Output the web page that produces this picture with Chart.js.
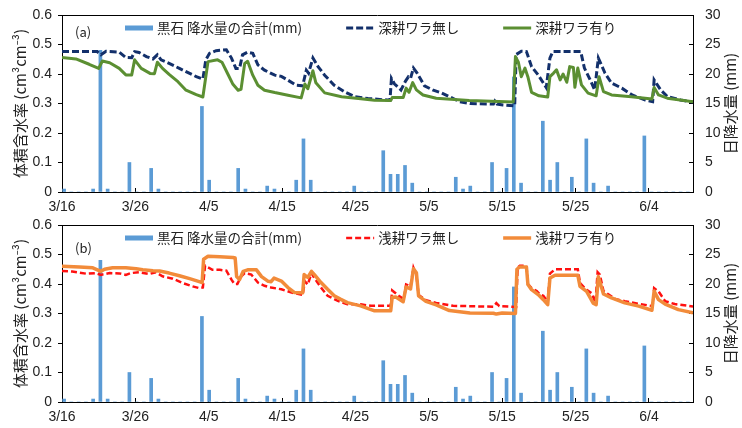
<!DOCTYPE html>
<html lang="ja">
<head>
<meta charset="utf-8">
<title>体積含水率と日降水量</title>
<script src="https://cdn.jsdelivr.net/npm/chart.js@4.4.1/dist/chart.umd.min.js"></script>
<style>
  html, body { margin: 0; padding: 0; background: #fff; }
  .panel { width: 742px; height: 214px; }
  canvas { display: block; }
</style>
</head>
<body>
<div class="panel"><canvas id="chartA" width="742" height="214"></canvas></div>
<div class="panel"><canvas id="chartB" width="742" height="214"></canvas></div>
<script>
// x-axis ticks: days since 3/16 and their labels
const tickDays = [0, 10, 20, 30, 40, 50, 60, 70, 80];
const tickLabels = ['3/16', '3/26', '4/5', '4/15', '4/25', '5/5', '5/15', '5/25', '6/4'];

// Daily precipitation at Kuroishi (mm), one value per day from 3/16 to 6/10
const rainfall = [
  0.5, 0, 0, 0, 0.5, 24, 0.5, 0, 0, 5,
  0, 0, 4, 0.5, 0, 0, 0, 0, 0, 14.5,
  2, 0, 0, 0, 4, 0.5, 0, 0, 1, 0.5,
  0, 0, 2, 9, 2, 0, 0, 0, 0, 0,
  1, 0, 0, 0, 7, 3, 3, 4.5, 1.5, 0,
  0, 0, 0, 0, 2.5, 0.5, 1, 0, 0, 5,
  0, 4, 19.5, 1.5, 0, 0, 12, 2, 5, 0,
  2.5, 0, 9, 1.5, 0, 1, 0, 0, 0, 0,
  9.5, 0, 0, 0, 0, 0, 0
];

// Volumetric water content (cm3/cm3): [days since 3/16, value]
const deepNoStraw = [
  [0,0.476],[2,0.476],[4.8,0.476],[5.3,0.465],[6.0,0.477],[7.8,0.474],[8.7,0.456],[9.5,0.455],[9.9,0.476],[10.5,0.473],
  [11.5,0.459],[12.4,0.451],[13.0,0.465],[13.5,0.448],[14.6,0.436],[16.0,0.419],[17.4,0.402],[18.3,0.391],[19.2,0.383],[19.6,0.448],
  [20.1,0.47],[21.0,0.479],[22.4,0.482],[23.1,0.454],[23.7,0.419],[24.2,0.419],[24.6,0.465],[25.3,0.474],[26.0,0.47],[26.7,0.431],
  [27.6,0.413],[29.0,0.396],[29.9,0.392],[30.8,0.379],[31.9,0.362],[32.8,0.36],[33.3,0.413],[33.6,0.403],[34.2,0.454],[34.9,0.425],
  [35.8,0.396],[37.1,0.362],[38.5,0.34],[39.9,0.323],[41.7,0.317],[44.7,0.311],[44.9,0.385],[45.3,0.367],[46.2,0.346],[46.8,0.375],
  [47.2,0.39],[47.5,0.385],[47.9,0.42],[48.4,0.403],[49.4,0.36],[50.6,0.345],[51.7,0.336],[52.8,0.323],[54.2,0.306],[55.6,0.3],
  [58.8,0.298],[59.0,0.308],[59.3,0.298],[60.1,0.295],[61.7,0.292],[61.9,0.466],[62.6,0.477],[63.3,0.476],[64.0,0.425],[64.9,0.397],
  [66.0,0.354],[66.5,0.454],[66.9,0.476],[70.7,0.476],[71.2,0.42],[72.1,0.374],[72.6,0.346],[73.1,0.454],[74.0,0.403],[74.9,0.369],
  [76.3,0.352],[77.7,0.329],[79.5,0.312],[80.5,0.306],[80.7,0.38],[81.6,0.346],[82.5,0.324],[84.3,0.312],[86,0.305]
];
const deepStraw = [
  [0,0.456],[1.9,0.451],[3.7,0.433],[5.0,0.419],[5.5,0.444],[6.5,0.438],[7.8,0.419],[8.7,0.397],[9.5,0.397],[9.9,0.448],
  [10.8,0.419],[12.0,0.402],[12.6,0.401],[13.0,0.44],[13.7,0.419],[14.6,0.399],[15.8,0.374],[16.9,0.345],[18.3,0.33],[19.2,0.322],
  [19.5,0.374],[19.9,0.442],[21.2,0.448],[21.8,0.44],[22.6,0.40],[23.3,0.365],[24.0,0.345],[24.4,0.348],[24.9,0.436],[25.3,0.443],
  [26.0,0.396],[26.7,0.362],[27.6,0.345],[29.0,0.337],[30.8,0.328],[32.6,0.319],[33.1,0.366],[33.5,0.35],[34.2,0.411],[34.6,0.37],
  [35.8,0.336],[38.1,0.323],[40.4,0.317],[42.6,0.311],[44.8,0.31],[45.0,0.32],[46.5,0.32],[46.9,0.352],[47.3,0.338],[47.8,0.371],
  [48.3,0.346],[49.2,0.329],[51.0,0.318],[55.5,0.31],[61.5,0.305],[61.8,0.459],[62.2,0.44],[62.6,0.391],[63.1,0.42],[63.5,0.39],
  [64.0,0.338],[65.0,0.326],[66.2,0.322],[66.5,0.391],[67.0,0.403],[67.4,0.414],[67.9,0.38],[68.3,0.40],[68.8,0.372],[69.2,0.425],
  [69.7,0.422],[69.9,0.355],[70.3,0.42],[70.8,0.363],[71.7,0.335],[72.8,0.326],[73.2,0.391],[73.8,0.34],[74.9,0.329],[77.6,0.323],
  [80.4,0.315],[80.7,0.354],[81.3,0.329],[82.5,0.318],[86,0.306]
];
const shallowNoStraw = [
  [0,0.444],[1.4,0.442],[3.3,0.435],[4.6,0.437],[5.3,0.431],[6.5,0.437],[7.8,0.436],[8.7,0.431],[9.4,0.437],[10.5,0.44],
  [11.9,0.434],[12.8,0.44],[13.7,0.426],[15.1,0.418],[16.5,0.403],[17.8,0.392],[18.7,0.386],[19.2,0.388],[19.5,0.462],[20.5,0.448],
  [21.5,0.448],[22.4,0.445],[23.1,0.415],[23.5,0.40],[23.9,0.40],[24.4,0.425],[24.9,0.437],[25.8,0.432],[26.7,0.405],[27.6,0.394],
  [28.5,0.388],[29.9,0.382],[31.3,0.371],[32.8,0.363],[33.1,0.409],[33.5,0.398],[34.0,0.437],[34.4,0.42],[35.3,0.388],[36.2,0.36],
  [37.6,0.343],[38.9,0.331],[40.7,0.331],[42.1,0.326],[44.8,0.326],[45.0,0.378],[45.3,0.372],[46.0,0.358],[46.6,0.348],[46.9,0.398],
  [47.5,0.392],[47.9,0.455],[48.3,0.43],[48.6,0.363],[49.6,0.345],[51.0,0.336],[53.3,0.326],[58.8,0.323],[59.2,0.335],[59.6,0.325],
  [61.9,0.322],[62.1,0.455],[62.4,0.462],[63.3,0.462],[63.5,0.40],[64.0,0.386],[64.7,0.376],[65.1,0.366],[65.6,0.36],[66.2,0.34],
  [66.5,0.435],[67.2,0.45],[70.3,0.45],[70.6,0.403],[71.5,0.38],[72.2,0.369],[72.7,0.336],[73.0,0.44],[73.3,0.432],[73.8,0.376],
  [74.4,0.366],[75.4,0.349],[76.7,0.342],[78.6,0.333],[80.5,0.325],[80.7,0.386],[81.3,0.375],[82.2,0.342],[83.5,0.332],[86,0.324]
];
const shallowStraw = [
  [0,0.46],[2.4,0.458],[4.2,0.455],[5.3,0.443],[5.8,0.45],[6.9,0.455],[8.7,0.455],[10.1,0.452],[11.0,0.448],[12.4,0.445],
  [13.3,0.444],[14.6,0.437],[16.0,0.428],[17.4,0.418],[18.7,0.408],[19.1,0.405],[19.3,0.484],[19.9,0.494],[21.5,0.492],[23.3,0.49],
  [23.6,0.488],[23.8,0.425],[24.2,0.415],[24.7,0.443],[25.3,0.448],[26.5,0.448],[27.2,0.425],[28.1,0.409],[28.5,0.408],[28.9,0.42],
  [29.9,0.41],[30.8,0.388],[31.7,0.371],[32.8,0.37],[33.0,0.432],[33.5,0.422],[34.0,0.443],[34.4,0.432],[35.3,0.405],[36.2,0.382],
  [37.1,0.36],[38.0,0.348],[38.9,0.337],[40.7,0.326],[42.6,0.309],[44.8,0.309],[45.0,0.355],[45.5,0.356],[46.5,0.34],[46.9,0.39],
  [47.5,0.383],[47.9,0.452],[48.3,0.438],[48.6,0.36],[49.6,0.341],[51.0,0.329],[52.8,0.31],[55.6,0.302],[58.8,0.301],[59.2,0.298],
  [60.0,0.302],[61.8,0.30],[62.0,0.45],[62.4,0.458],[63.3,0.458],[63.5,0.398],[64.0,0.381],[64.9,0.364],[65.6,0.347],[66.2,0.33],
  [66.5,0.42],[67.2,0.43],[70.3,0.43],[70.6,0.392],[71.5,0.375],[72.4,0.335],[72.8,0.33],[73.1,0.425],[73.8,0.366],[74.9,0.353],
  [76.7,0.336],[78.6,0.325],[80.4,0.311],[80.7,0.376],[81.3,0.347],[82.2,0.332],[84.0,0.313],[86,0.302]
];

// Category labels for the daily bars (3/16 onward)
const rainDates = rainfall.map((_, i) => {
  const d = new Date(2021, 2, 16 + i);
  return (d.getMonth() + 1) + '/' + d.getDate();
});

const CJK = '"Noto Sans CJK JP", "Noto Sans", sans-serif';
const NUM = '"Liberation Sans", Arial, sans-serif';
const TEXT = '#222';

function toPoints(series) {
  return series.map(([d, v]) => ({ x: d, y: v }));
}

// Fixed axis width with no extra label overflow padding
function fixWidth(w) {
  return (s) => {
    s.width = w;
    s.paddingTop = 0;
    s.paddingBottom = 0;
  };
}

// Legend, panel tag, top frame line and right-hand axis title
function decorPlugin(tag, tagOffset) {
  return {
    id: 'panelDecor',
    afterDraw(chart) {
      const { ctx, chartArea: a } = chart;
      ctx.save();

      // frame line along the top of the plot area
      ctx.strokeStyle = '#000';
      ctx.lineWidth = 1;
      ctx.beginPath();
      ctx.moveTo(a.left, Math.round(a.top) + 0.5);
      ctx.lineTo(a.right, Math.round(a.top) + 0.5);
      ctx.stroke();

      // panel tag
      ctx.fillStyle = TEXT;
      ctx.font = '13px ' + CJK;
      ctx.textBaseline = 'middle';
      ctx.textAlign = 'left';
      ctx.fillText(tag, a.left + 13, a.top + tagOffset);

      // legend
      const cy = a.top + 13;
      let x = a.left + 63;
      ctx.font = '13.5px ' + CJK;
      chart.data.datasets.forEach((ds) => {
        const sw = 28;
        if (ds.type === 'line') {
          ctx.strokeStyle = ds.borderColor;
          ctx.lineWidth = ds.borderWidth;
          ctx.setLineDash(ds.borderDash || []);
          ctx.beginPath();
          ctx.moveTo(x, cy);
          ctx.lineTo(x + sw, cy);
          ctx.stroke();
          ctx.setLineDash([]);
        } else {
          ctx.fillStyle = ds.backgroundColor;
          ctx.fillRect(x, cy - 2.5, sw, 5);
        }
        ctx.fillStyle = TEXT;
        ctx.fillText(ds.label, x + sw + 4, cy);
        x += sw + 4 + ctx.measureText(ds.label).width + 44;
      });

      // right axis title, reading bottom to top
      ctx.font = '15px ' + CJK;
      ctx.textAlign = 'center';
      ctx.translate(730, (a.top + a.bottom) / 2);
      ctx.rotate(-Math.PI / 2);
      ctx.fillText('日降水量 (mm)', 0, 0);
      ctx.restore();
    }
  };
}

function makePanel(canvasId, tag, tagOffset, topPad, axisHeight, lines) {
  const datasets = [
    {
      type: 'bar',
      label: '黒石 降水量の合計(mm)',
      data: rainfall,
      xAxisID: 'xb',
      yAxisID: 'y2',
      backgroundColor: '#5b9bd5',
      borderWidth: 0,
      barThickness: 3,
      order: 3
    },
    {
      type: 'line',
      label: lines[0].label,
      data: toPoints(lines[0].data),
      xAxisID: 'x',
      yAxisID: 'y',
      borderColor: lines[0].color,
      borderWidth: lines[0].width,
      borderDash: lines[0].dash,
      borderCapStyle: 'butt',
      pointRadius: 0,
      tension: 0,
      fill: false,
      order: 2
    },
    {
      type: 'line',
      label: lines[1].label,
      data: toPoints(lines[1].data),
      xAxisID: 'x',
      yAxisID: 'y',
      borderColor: lines[1].color,
      borderWidth: lines[1].width,
      borderJoinStyle: 'round',
      pointRadius: 0,
      tension: 0,
      fill: false,
      order: 1
    }
  ];

  return new Chart(document.getElementById(canvasId), {
    type: 'bar',
    data: { labels: rainDates, datasets },
    options: {
      responsive: false,
      animation: false,
      devicePixelRatio: 1,
      layout: { autoPadding: false, padding: { top: topPad, left: 0, right: 0, bottom: 0 } },
      plugins: { legend: { display: false }, tooltip: { enabled: false } },
      scales: {
        x: {
          type: 'linear',
          position: 'bottom',
          min: 0,
          max: 86,
          offset: false,
          afterFit: (s) => { s.height = axisHeight; },
          afterBuildTicks: (s) => { s.ticks = tickDays.map((v) => ({ value: v })); },
          grid: { drawOnChartArea: false, drawTicks: true, tickLength: -4, color: '#000', offset: false },
          border: { color: '#000', width: 1 },
          ticks: {
            autoSkip: false,
            maxRotation: 0,
            padding: 11,
            color: TEXT,
            font: { family: NUM, size: 14 },
            callback: (v) => tickLabels[tickDays.indexOf(v)]
          }
        },
        xb: {
          type: 'category',
          display: false,
          offset: true,
          grid: { offset: true }
        },
        y: {
          type: 'linear',
          position: 'left',
          min: 0,
          max: 0.6,
          afterFit: fixWidth(62),
          grid: { drawOnChartArea: false, drawTicks: true, tickLength: 4, color: '#000' },
          border: { color: '#000', width: 1 },
          ticks: {
            stepSize: 0.1,
            padding: 6,
            color: TEXT,
            font: { family: NUM, size: 14 },
            callback: (v) => (Math.abs(v) < 1e-9 ? '0' : v.toFixed(1))
          },
          title: {
            display: true,
            text: '体積含水率 (cm³cm⁻³)',
            color: TEXT,
            font: { family: CJK, size: 15 },
            padding: { top: 11, bottom: 0 }
          }
        },
        y2: {
          type: 'linear',
          position: 'right',
          min: 0,
          max: 30,
          afterFit: fixWidth(49),
          grid: { drawOnChartArea: false, drawTicks: true, tickLength: -4, color: '#000' },
          border: { color: '#000', width: 1 },
          ticks: {
            stepSize: 5,
            padding: 16,
            color: TEXT,
            font: { family: NUM, size: 14 }
          }
        }
      }
    },
    plugins: [decorPlugin(tag, tagOffset)]
  });
}

makePanel('chartA', '(a)', 17, 15, 22, [
  { label: '深耕ワラ無し', data: deepNoStraw, color: '#13306b', width: 3, dash: [7, 3] },
  { label: '深耕ワラ有り', data: deepStraw, color: '#5b8f32', width: 3 }
]);
makePanel('chartB', '(b)', 23, 11, 26, [
  { label: '浅耕ワラ無し', data: shallowNoStraw, color: '#ff1010', width: 2.5, dash: [6, 3] },
  { label: '浅耕ワラ有り', data: shallowStraw, color: '#f28b3a', width: 3.5 }
]);
</script>
</body>
</html>
